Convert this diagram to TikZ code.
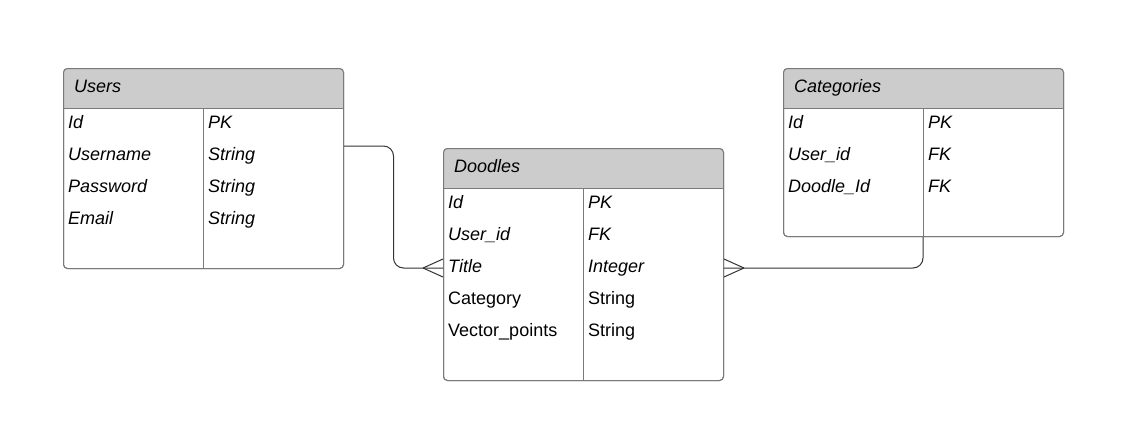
\documentclass[tikz,border=0pt]{standalone}
\usepackage{fontspec}
\setmainfont{Liberation Sans}
\usetikzlibrary{calc}
\definecolor{hdr}{HTML}{CCCCCC}
\definecolor{bord}{HTML}{7A7A7A}
\definecolor{lnk}{HTML}{333333}
\begin{document}
\begin{tikzpicture}[x=1pt,y=1pt,
  tablebox/.style={draw=bord, line width=1pt, rounded corners=4pt, inner sep=0pt, anchor=north west},
  divline/.style={draw=bord, line width=1pt},
  txt/.style={anchor=base west, inner sep=0pt, font=\fontsize{18}{22}\selectfont\itshape},
  txtu/.style={anchor=base west, inner sep=0pt, font=\fontsize{18}{22}\selectfont},
  conn/.style={draw=lnk, line width=1pt}]
\useasboundingbox (0,0) rectangle (1122,-445);

% ---------- Users ----------
\node[tablebox, minimum width=280pt, minimum height=200pt] (users) at (63,-68) {};
\begin{scope}
  \clip[rounded corners=4pt] (users.north west) rectangle (users.south east);
  \fill[hdr] (users.north west) rectangle ($(users.north east)+(0,-40)$);
\end{scope}
\node[tablebox, minimum width=280pt, minimum height=200pt] (usersb) at (63,-68) {};
\draw[divline] ($(users.north west)+(0,-40)$) -- ($(users.north east)+(0,-40)$);
\draw[divline] ($(users.north west)+(140,-40)$) -- ($(users.south west)+(140,0)$);
\node[txt] (usersT) at (74,-92) {Users};
\node[txt] (u1a) at (68,-128) {Id};
\node[txt] (u1b) at (208,-128) {PK};
\node[txt] (u2a) at (68,-160) {Username};
\node[txt] (u2b) at (208,-160) {String};
\node[txt] (u3a) at (68,-192) {Password};
\node[txt] (u3b) at (208,-192) {String};
\node[txt] (u4a) at (68,-224) {Email};
\node[txt] (u4b) at (208,-224) {String};

% ---------- Doodles ----------
\node[tablebox, minimum width=280pt, minimum height=232pt] (dood) at (443,-148) {};
\begin{scope}
  \clip[rounded corners=4pt] (dood.north west) rectangle (dood.south east);
  \fill[hdr] (dood.north west) rectangle ($(dood.north east)+(0,-40)$);
\end{scope}
\node[tablebox, minimum width=280pt, minimum height=232pt] (doodb) at (443,-148) {};
\draw[divline] ($(dood.north west)+(0,-40)$) -- ($(dood.north east)+(0,-40)$);
\draw[divline] ($(dood.north west)+(140,-40)$) -- ($(dood.south west)+(140,0)$);
\node[txt] (doodT) at (454,-172) {Doodles};
\node[txt] (d1a) at (448,-208) {Id};
\node[txt] (d1b) at (588,-208) {PK};
\node[txt] (d2a) at (448,-240) {User\_id};
\node[txt] (d2b) at (588,-240) {FK};
\node[txt] (d3a) at (448,-272) {Title};
\node[txt] (d3b) at (588,-272) {Integer};
\node[txtu] (d4a) at (448,-304) {Category};
\node[txtu] (d4b) at (588,-304) {String};
\node[txtu] (d5a) at (448,-336) {Vector\_points};
\node[txtu] (d5b) at (588,-336) {String};

% ---------- Categories ----------
\node[tablebox, minimum width=280pt, minimum height=168pt] (cat) at (783,-68) {};
\begin{scope}
  \clip[rounded corners=4pt] (cat.north west) rectangle (cat.south east);
  \fill[hdr] (cat.north west) rectangle ($(cat.north east)+(0,-40)$);
\end{scope}
\node[tablebox, minimum width=280pt, minimum height=168pt] (catb) at (783,-68) {};
\draw[divline] ($(cat.north west)+(0,-40)$) -- ($(cat.north east)+(0,-40)$);
\draw[divline] ($(cat.north west)+(140,-40)$) -- ($(cat.south west)+(140,0)$);
\node[txt] (catT) at (794,-92) {Categories};
\node[txt] (c1a) at (788,-128) {Id};
\node[txt] (c1b) at (928,-128) {PK};
\node[txt] (c2a) at (788,-160) {User\_id};
\node[txt] (c2b) at (928,-160) {FK};
\node[txt] (c3a) at (788,-192) {Doodle\_Id};
\node[txt] (c3b) at (928,-192) {FK};

% ---------- connectors ----------
\coordinate (uout) at ($(users.north east)+(0,-78)$);
\coordinate (din1) at ($(dood.north west)+(0,-120)$);
\coordinate (cout) at ($(cat.south west)+(140,0)$);
\coordinate (din2) at ($(dood.north east)+(0,-120)$);

\draw[conn, rounded corners=10pt] (uout) -| ($(uout)!0.5!(din1)$) |- (din1);
\draw[conn] ([xshift=-20pt]din1) -- ([yshift=9pt]din1);
\draw[conn] ([xshift=-20pt]din1) -- ([yshift=-9pt]din1);

\draw[conn, rounded corners=10pt] (cout) |- (din2);
\draw[conn] ([xshift=20pt]din2) -- ([yshift=9pt]din2);
\draw[conn] ([xshift=20pt]din2) -- ([yshift=-9pt]din2);
\end{tikzpicture}
\end{document}
